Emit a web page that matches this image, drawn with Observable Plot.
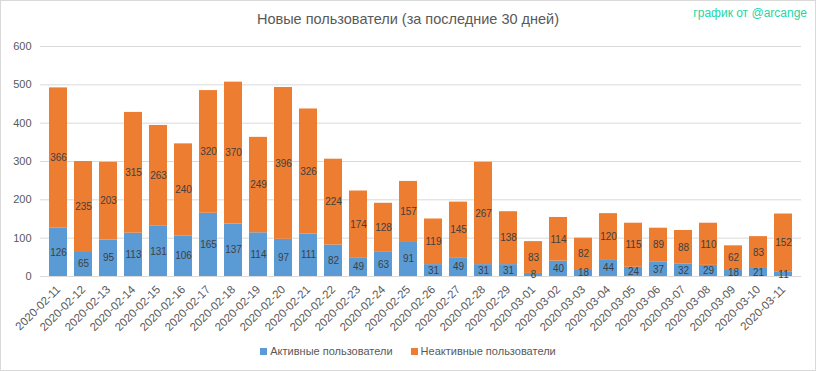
<!DOCTYPE html>
<html><head><meta charset="utf-8">
<script src="https://cdn.jsdelivr.net/npm/d3@7"></script>
<script src="https://cdn.jsdelivr.net/npm/@observablehq/plot@0.6"></script>
<style>
body{margin:0;background:#fff}
#wrap{position:relative;box-sizing:border-box;width:816px;height:371px;border:1px solid #d9d9d9;font-family:"Liberation Sans",Arial,sans-serif;overflow:hidden;background:#fff}
#title{position:absolute;top:10px;left:0;width:814px;text-align:center;font-size:14.5px;color:#595959}
#credit{position:absolute;top:5px;right:8px;font-size:12px;color:#22d6a6}
#chart{position:absolute;top:0;left:0}
#legend{position:absolute;top:344px;left:0;width:814px;text-align:center;font-size:11px;color:#595959}
#legend span.sw{display:inline-block;width:7px;height:7px;margin-right:3px;vertical-align:0px}
#legend span.it{margin:0 9px}
</style></head><body>
<div id="wrap">
<div id="chart"></div>
<div id="title"></div>
<div id="credit"></div>
<div id="legend"></div>
</div>
<script>
const title = "Новые пользователи (за последние 30 дней)";
const credit = "график от @arcange";
const dates = ["2020-02-11","2020-02-12","2020-02-13","2020-02-14","2020-02-15","2020-02-16","2020-02-17","2020-02-18","2020-02-19","2020-02-20","2020-02-21","2020-02-22","2020-02-23","2020-02-24","2020-02-25","2020-02-26","2020-02-27","2020-02-28","2020-02-29","2020-03-01","2020-03-02","2020-03-03","2020-03-04","2020-03-05","2020-03-06","2020-03-07","2020-03-08","2020-03-09","2020-03-10","2020-03-11"];
const active = [126,65,95,113,131,106,165,137,114,97,111,82,49,63,91,31,49,31,31,8,40,18,44,24,37,32,29,18,21,11];
const inactive = [366,235,203,315,263,240,320,370,249,396,326,224,174,128,157,119,145,267,138,83,114,82,120,115,89,88,110,62,83,152];
const seriesNames = ["Активные пользователи","Неактивные пользователи"];
const seriesColors = ["#5b9bd5","#ed7d31"];
const yTicks = [0,100,200,300,400,500,600];

const rows = [];
dates.forEach((d,i)=>rows.push({date:d, series:seriesNames[0], value:active[i]}));
dates.forEach((d,i)=>rows.push({date:d, series:seriesNames[1], value:inactive[i]}));

document.getElementById("title").textContent = title;
document.getElementById("credit").textContent = credit;
document.getElementById("legend").innerHTML = seriesNames.map((s,i)=>`<span class="it"><span class="sw" style="background:${seriesColors[i]}"></span>${s}</span>`).join("");

const chart = Plot.plot({
  width: 814, height: 340,
  marginTop: 45, marginBottom: 65, marginLeft: 39, marginRight: 14,
  style: {fontFamily: '"Liberation Sans",Arial,sans-serif', background: "transparent"},
  x: {domain: dates, paddingInner: 0.27, paddingOuter: 0.14, label: null},
  y: {domain: [0,600], label: null},
  color: {domain: seriesNames, range: seriesColors},
  marks: [
    Plot.gridY(yTicks, {stroke: "#d9d9d9", strokeOpacity: 1}),
    Plot.barY(rows, {x: "date", y: "value", fill: "series"}),
    Plot.ruleY([0], {stroke: "#d9d9d9"}),
    Plot.text(rows, Plot.stackY({x: "date", y: "value", z: "series", text: d => String(d.value), fill: "#404040", fontSize: 10})),
    Plot.axisY({ticks: yTicks, tickSize: 0, tickPadding: 9, fill: "#595959", fontSize: 11}),
    Plot.axisX({tickSize: 0, tickRotate: -45, tickPadding: 11, fill: "#595959", fontSize: 11.5})
  ]
});
document.getElementById("chart").appendChild(chart);
</script>
</body></html>
